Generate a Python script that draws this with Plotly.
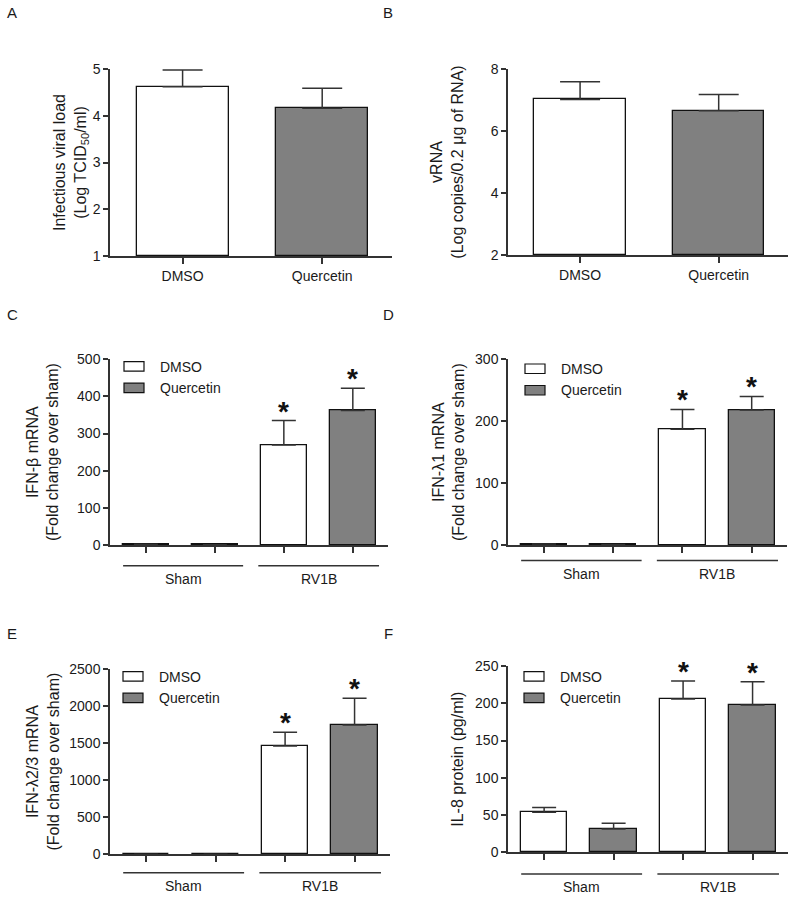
import plotly.graph_objects as go

W, H = 795, 899
FONT = "Liberation Sans, Arial, sans-serif"
TXT = "#1a1a1a"
AX = "#333333"
GRAY = "#808080"

# ---------------- data ----------------
treatments = ["DMSO", "Quercetin"]
groups = ["Sham", "RV1B"]

a_means = [4.62, 4.16]
a_errs = [0.36, 0.43]
b_means = [7.02, 6.65]
b_errs = [0.57, 0.53]

# per treatment: [Sham, RV1B]
c_dmso, c_dmso_err = [2, 269], [0, 66]
c_quer, c_quer_err = [1, 362], [0, 60]
d_dmso, d_dmso_err = [1.5, 187], [0, 32]
d_quer, d_quer_err = [1, 218], [0, 22]
e_dmso, e_dmso_err = [1, 1461], [0, 185]
e_quer, e_quer_err = [1, 1744], [0, 361]
f_dmso, f_dmso_err = [53.7, 205.7], [6.3, 24.3]
f_quer, f_quer_err = [31.3, 197.7], [7.7, 31.3]
signif = [False, True]  # asterisk for RV1B group

a_ticks = [1, 2, 3, 4, 5]
b_ticks = [2, 4, 6, 8]
c_ticks = [0, 100, 200, 300, 400, 500]
d_ticks = [0, 100, 200, 300]
e_ticks = [0, 500, 1000, 1500, 2000, 2500]
f_ticks = [0, 50, 100, 150, 200, 250]

# ---------------- layout helpers ----------------
def px_x(x):
    return x / W

def px_y(y):
    return 1 - y / H

# panel pixel boxes: (left, right, top, bottom)
boxes = {
    1: (110, 392, 69, 256),
    2: (508, 788, 69, 255),
    3: (110, 388, 359.3, 545),
    4: (508, 787, 359.3, 545),
    5: (110, 390, 669, 854.3),
    6: (508, 788, 666, 852.3),
}

fig = go.Figure()
layout = dict(
    width=W, height=H, margin=dict(l=0, r=0, t=0, b=0, autoexpand=False),
    paper_bgcolor="white", plot_bgcolor="white",
    showlegend=False, font=dict(family=FONT, size=14, color=TXT),
    bargap=0,
)
annotations = []
shapes = []

def axname(i, kind):
    return kind + ("" if i == 1 else str(i))

def err_bar(errs, width):
    return dict(type="data", array=errs, arrayminus=[0] * len(errs), symmetric=False,
                color=AX, thickness=1.5, width=width, visible=True)

def setup_axes(i, yrange, yticks, xrange, xtickvals, xticktext, ytitle, standoff):
    l, r, t, b = boxes[i]
    xa = dict(
        domain=[px_x(l), px_x(r)], anchor=axname(i, "y"), range=xrange,
        tickmode="array", tickvals=xtickvals,
        ticks="outside", ticklen=6, tickwidth=1.5, tickcolor=AX,
        showline=True, linecolor=AX, linewidth=1.5, showgrid=False, zeroline=False,
        tickfont=dict(size=14, color=TXT, family=FONT), automargin=False,
    )
    if xticktext is None:
        xa["showticklabels"] = False
    else:
        xa["ticktext"] = xticktext
    layout[axname(i, "xaxis")] = xa
    layout[axname(i, "yaxis")] = dict(
        domain=[px_y(b), px_y(t)], anchor=axname(i, "x"), range=yrange,
        tickmode="array", tickvals=yticks,
        ticks="outside", ticklen=5, tickwidth=1.5, tickcolor=AX,
        showline=True, linecolor=AX, linewidth=1.5, showgrid=False, zeroline=False,
        tickfont=dict(size=14, color=TXT, family=FONT), automargin=False,
        title=dict(text=ytitle, font=dict(size=16, color=TXT, family=FONT), standoff=standoff),
    )

# ---------------- panels A and B ----------------
for i, means, errs, yr, yt, title, so in [
    (1, a_means, a_errs, [1, 5], a_ticks,
     "Infectious viral load<br>(Log TCID<sub>50</sub>/ml)", 2),
    (2, b_means, b_errs, [2, 8], b_ticks,
     "vRNA<br>(Log copies/0.2 \u03bcg of RNA)", 23),
]:
    xs = list(range(len(treatments)))
    base = yr[0]
    fig.add_trace(go.Bar(
        x=xs, y=[m - base for m in means], base=base, width=0.66,
        marker=dict(color=["white", GRAY], line=dict(color="#111", width=1.3)),
        error_y=err_bar(errs, 20), name="", xaxis=axname(i, "x"), yaxis=axname(i, "y"),
    ))
    setup_axes(i, yr, yt, [-0.52, 1.5], xs, treatments, title, so)

# ---------------- panels C to F ----------------
panel_cf = [
    (3, c_dmso, c_dmso_err, c_quer, c_quer_err, [0, 500], c_ticks,
     "IFN-\u03b2 mRNA<br>(Fold change over sham)", 14, 20.7, 34),
    (4, d_dmso, d_dmso_err, d_quer, d_quer_err, [0, 300], d_ticks,
     "IFN-\u03bb1 mRNA<br>(Fold change over sham)", 6, 15.5, 29),
    (5, e_dmso, e_dmso_err, e_quer, e_quer_err, [0, 2500], e_ticks,
     "IFN-\u03bb2/3 mRNA<br>(Fold change over sham)", 6, 18.4, 31.5),
    (6, f_dmso, f_dmso_err, f_quer, f_quer_err, [0, 250], f_ticks,
     "IL-8 protein (pg/ml)", 7, 21.7, 35),
]

for (i, dm, dme, qu, que, yr, yt, title, so, line_off, lab_off) in panel_cf:
    xa, ya = axname(i, "x"), axname(i, "y")
    x_d = [2 * g for g in range(len(groups))]
    x_q = [2 * g + 1 for g in range(len(groups))]
    fig.add_trace(go.Bar(
        x=x_d, y=dm, width=0.67, name="DMSO",
        marker=dict(color="white", line=dict(color="#111", width=1.3)),
        error_y=err_bar(dme, 12), xaxis=xa, yaxis=ya,
    ))
    fig.add_trace(go.Bar(
        x=x_q, y=qu, width=0.67, name="Quercetin",
        marker=dict(color=GRAY, line=dict(color="#111", width=1.3)),
        error_y=err_bar(que, 12), xaxis=xa, yaxis=ya,
    ))
    setup_axes(i, yr, yt, [-0.52, 3.51], [0, 1, 2, 3], None, title, so)

    # significance asterisks
    for g, s in enumerate(signif):
        if s:
            for xv, v, e in [(x_d[g], dm[g], dme[g]), (x_q[g], qu[g], que[g])]:
                annotations.append(dict(
                    x=xv, y=v + e, xref=xa, yref=ya, text="<b>*</b>", showarrow=False,
                    yanchor="bottom", yshift=-8, font=dict(size=28, color="#111", family=FONT),
                ))

    # group lines + labels
    l, r, t, b = boxes[i]
    hpx = b - t
    for gname, x0, x1 in [(groups[0], -0.33, 1.41), (groups[1], 1.63, 3.38)]:
        shapes.append(dict(type="line", xref=xa, yref=ya + " domain",
                           x0=x0, x1=x1, y0=-line_off / hpx, y1=-line_off / hpx,
                           line=dict(color=AX, width=1.5)))
        annotations.append(dict(x=(x0 + x1) / 2, y=-lab_off / hpx, xref=xa, yref=ya + " domain",
                                text=gname, showarrow=False, yanchor="middle",
                                font=dict(size=14, color=TXT, family=FONT)))

    # legend (drawn as boxes + text)
    lx = {3: 124, 4: 525, 5: 123, 6: 524}[i]
    ly = {3: 361.7, 4: 364, 5: 671.7, 6: 671.7}[i]
    for k, (nm, col) in enumerate([("DMSO", "white"), ("Quercetin", GRAY)]):
        y0 = ly + k * 21.5
        shapes.append(dict(type="rect", xref="paper", yref="paper",
                           x0=px_x(lx), x1=px_x(lx + 20), y0=px_y(y0 + 9.5), y1=px_y(y0),
                           fillcolor=col, line=dict(color="#111", width=1.2)))
        annotations.append(dict(x=px_x(lx + 34), y=px_y(y0 + 4.8), xref="paper", yref="paper",
                                text=nm, showarrow=False, xanchor="left", yanchor="middle",
                                font=dict(size=14, color=TXT, family=FONT)))

# panel letters
for letter, x, y in [("A", 12, 13), ("B", 388, 13), ("C", 12, 315),
                     ("D", 388, 315), ("E", 12, 633), ("F", 388, 633)]:
    annotations.append(dict(x=px_x(x), y=px_y(y), xref="paper", yref="paper", text=letter,
                            showarrow=False, xanchor="center", yanchor="middle",
                            font=dict(size=15, color=TXT, family=FONT)))

layout["annotations"] = annotations
layout["shapes"] = shapes
fig.update_layout(**layout)
fig.write_html("out.html", config={"displayModeBar": False},
               post_script="document.body.style.margin='0';document.body.style.overflow='hidden';")
